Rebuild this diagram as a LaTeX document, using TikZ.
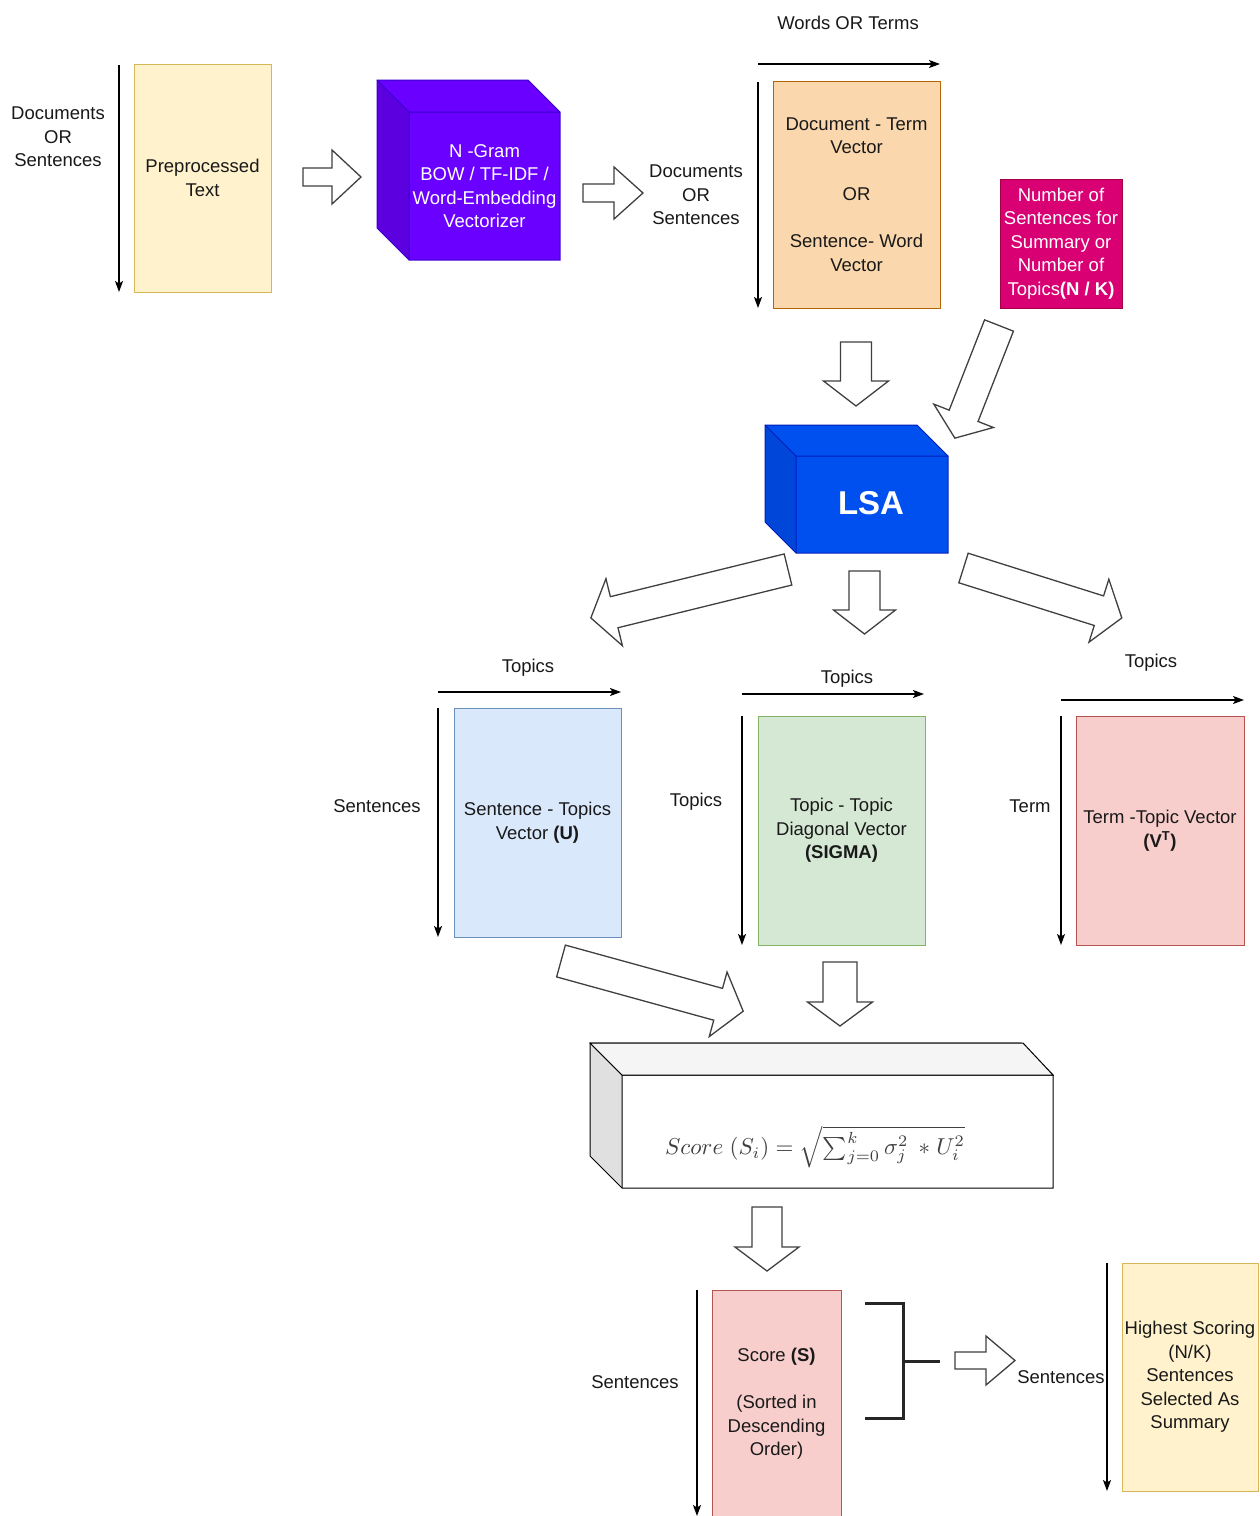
\documentclass[tikz,border=0pt]{standalone}
\usepackage{graphicx}
\usepackage{fontspec}
\setmainfont{Liberation Sans}
\usetikzlibrary{arrows.meta}
\definecolor{ylwF}{HTML}{FFF2CC}\definecolor{ylwD}{HTML}{D6B656}
\definecolor{orgF}{HTML}{FAD7AC}\definecolor{orgD}{HTML}{B46504}
\definecolor{magF}{HTML}{D80073}\definecolor{magD}{HTML}{A50040}
\definecolor{bluF}{HTML}{DAE8FC}\definecolor{bluD}{HTML}{6C8EBF}
\definecolor{grnF}{HTML}{D5E8D4}\definecolor{grnD}{HTML}{82B366}
\definecolor{redF}{HTML}{F8CECC}\definecolor{redD}{HTML}{B85450}
\definecolor{purF}{HTML}{6A00FF}\definecolor{purS}{HTML}{5C00E0}\definecolor{purD}{HTML}{3700CC}
\definecolor{lsaF}{HTML}{0050EF}\definecolor{lsaS}{HTML}{0046D8}\definecolor{lsaD}{HTML}{001DBC}
\newcommand\lbf{\fontsize{18.5}{23.5}\selectfont}
\newcommand{\blockarr}[7]{\draw[barrow,shift={(#1,#2)},rotate=#3] (0,{-#5/2}) -- ({#4-#7},{-#5/2}) -- ({#4-#7},{-#6/2}) -- (#4,0) -- ({#4-#7},{#6/2}) -- ({#4-#7},{#5/2}) -- (0,{#5/2}) -- cycle;}
\newcommand{\cubeshape}[8]{% x1 y1 x2 y2 d fill side stroke
  \fill[#6] ({#1-#5},{#2-#5}) -- ({#3-#5},{#2-#5}) -- (#3,#2) -- (#1,#2) -- cycle;
  \fill[#7] ({#1-#5},{#2-#5}) -- (#1,#2) -- (#1,#4) -- ({#1-#5},{#4-#5}) -- cycle;
  \fill[#6] (#1,#2) rectangle (#3,#4);
  \draw[#8,line width=1pt,line join=miter] ({#1-#5},{#2-#5}) -- ({#3-#5},{#2-#5}) -- (#3,#2) -- (#3,#4) -- (#1,#4) -- ({#1-#5},{#4-#5}) -- cycle;
  \draw[#8,line width=1pt] ({#1-#5},{#2-#5}) -- (#1,#2) -- (#3,#2) (#1,#2) -- (#1,#4);}
\begin{document}
\begin{tikzpicture}[x=1pt,y=-1pt,
  lbl/.style={font=\lbf, align=center, text=black!90, inner sep=0},
  mat/.style={draw, line width=1pt, align=center, inner sep=0, font=\lbf, text=black!90},
  axis/.style={line width=1.4pt, -{Stealth[length=11pt,width=8pt,inset=2.5pt]}},
  barrow/.style={draw=black!75, line width=1.3pt, fill=white, line join=miter}]
\useasboundingbox (0,0) rectangle (1260,1516);
\fill[white] (0,0) rectangle (1260,1516);

% ---- row 1
\node[lbl] (docs1) at (58,137) {Documents\\OR\\Sentences};
\coordinate (a1s) at (119,65); \coordinate (a1e) at (119,292);
\draw[axis] (a1s) -- (a1e);
\node[mat, fill=ylwF, draw=ylwD, minimum width=137, minimum height=228] (pp) at (202.5,178) {Preprocessed\\Text};
\blockarr{303}{177}{0}{58}{18}{54}{29}

\cubeshape{409}{112}{560}{260}{32}{purF}{purS}{purD}
\node[lbl, text=white] (vec) at (484.5,186) {N -Gram\\BOW / TF-IDF /\\Word-Embedding\\Vectorizer};
\blockarr{583}{193}{0}{60}{18}{52}{29}

\node[lbl] (docs2) at (696,195) {Documents\\OR\\Sentences};
\node[lbl] (words) at (848,23) {Words OR Terms};
\coordinate (a2s) at (758,82); \coordinate (a2e) at (758,308);
\coordinate (a3s) at (758,64); \coordinate (a3e) at (940,64);
\draw[axis] (a2s) -- (a2e);
\draw[axis] (a3s) -- (a3e);
\node[mat, fill=orgF, draw=orgD, minimum width=167, minimum height=227] (dtm) at (856.5,194.5)
  {Document - Term\\Vector\\[23.5pt]OR\\[23.5pt]Sentence- Word\\Vector};
\node[mat, fill=magF, draw=magD, text=white, minimum width=122, minimum height=129] (num) at (1061,243.5)
  {Number of\\Sentences for\\Summary or\\Number of\\Topics\textbf{(N / K)}};

% ---- LSA
\blockarr{856}{342}{-90}{64}{31}{65}{25}
\blockarr{999}{325.5}{-111.4}{121}{31}{64}{24}
\cubeshape{796}{456}{948}{553}{31}{lsaF}{lsaS}{lsaD}
\node[inner sep=0, text=white, font=\fontsize{33}{36}\selectfont\bfseries] (lsa) at (871,503) {LSA};
\blockarr{788}{569.5}{-166.2}{203}{32}{69}{24}
\blockarr{864.5}{571}{-90}{63}{31}{62}{24}
\blockarr{963.5}{568}{-17.5}{166}{31}{66}{24}

% ---- matrices
\node[lbl] (topU) at (528,668) {Topics};
\node[lbl] (senU) at (377,806) {Sentences};
\coordinate (u1s) at (438,708); \coordinate (u1e) at (438,937);
\coordinate (u2s) at (438,692); \coordinate (u2e) at (621,692);
\draw[axis] (u1s) -- (u1e);
\draw[axis] (u2s) -- (u2e);
\node[mat, fill=bluF, draw=bluD, minimum width=167, minimum height=229] (U) at (537.5,822.5)
  {Sentence - Topics\\Vector \textbf{(U)}};

\node[lbl] (topS) at (847,679) {Topics};
\node[lbl] (topS2) at (696,802) {Topics};
\coordinate (s1s) at (742,716); \coordinate (s1e) at (742,945);
\coordinate (s2s) at (742,694); \coordinate (s2e) at (924,694);
\draw[axis] (s1s) -- (s1e);
\draw[axis] (s2s) -- (s2e);
\node[mat, fill=grnF, draw=grnD, minimum width=167, minimum height=229] (S) at (841.5,830.5)
  {Topic - Topic\\Diagonal Vector\\\textbf{(SIGMA)}};

\node[lbl] (topV) at (1151,663) {Topics};
\node[lbl] (termV) at (1030,806) {Term};
\coordinate (v1s) at (1061,716); \coordinate (v1e) at (1061,945);
\coordinate (v2s) at (1061,700); \coordinate (v2e) at (1244,700);
\draw[axis] (v1s) -- (v1e);
\draw[axis] (v2s) -- (v2e);
\node[mat, fill=redF, draw=redD, minimum width=168, minimum height=229] (V) at (1160,830.5)
  {Term -Topic Vector\\\textbf{(V\textsuperscript{T})}};

% ---- score
\blockarr{561}{961}{-15.4}{189}{33}{67}{26}
\blockarr{840}{962}{-90}{64}{34}{65}{24}
\cubeshape{622}{1075}{1053}{1188}{32}{white}{black!12}{black}
\fill[black!4] (590,1043) -- (1023,1043) -- (1053,1075) -- (622,1075) -- cycle;
\draw[line width=1pt] (590,1043) -- (1023,1043) -- (1053,1075) -- (622,1075) -- cycle;
\node[inner sep=0, text=black!75] (formula) at (815,1147)
  {\scalebox{2.3}{$Score\;(S_i) = \sqrt{\textstyle\sum_{j=0}^{k}\sigma_j^2\;\,{*}\;U_i^2}$}};

\blockarr{767}{1207}{-90}{64}{30}{64}{24}

% ---- bottom
\node[lbl] (senB) at (635,1382) {Sentences};
\node[mat, fill=redF, draw=redD, minimum width=129, minimum height=228] (sc) at (776.5,1404)
  {Score \textbf{(S)}\\[23.5pt](Sorted in\\Descending\\Order)};
\coordinate (b1s) at (697,1290); \coordinate (b1e) at (697,1516);
\draw[axis] (b1s) -- (b1e);
\coordinate (br1) at (865,1303); \coordinate (br2) at (903,1303);
\coordinate (br3) at (903,1418); \coordinate (br4) at (865,1418);
\coordinate (br5) at (903,1361); \coordinate (br6) at (940,1361);
\draw[line width=3pt, black!85] (br1) -- (br2) -- (br3) -- (br4);
\draw[line width=3pt, black!85] (br5) -- (br6);
\blockarr{955}{1360.5}{0}{60}{17}{49}{29}
\node[lbl] (senH) at (1061,1377) {Sentences};
\coordinate (h1s) at (1107,1263); \coordinate (h1e) at (1107,1491);
\draw[axis] (h1s) -- (h1e);
\node[mat, fill=ylwF, draw=ylwD, minimum width=136, minimum height=228] (hs) at (1190,1377)
  {Highest Scoring\\(N/K)\\Sentences\\Selected As\\Summary};
\end{tikzpicture}
\end{document}
